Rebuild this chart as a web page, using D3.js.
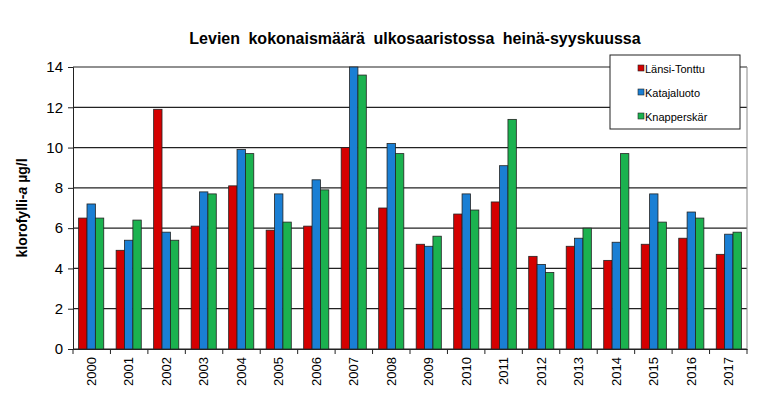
<!DOCTYPE html>
<meta charset="utf-8">
<script src="https://d3js.org/d3.v7.min.js"></script>
<style>body{margin:0;background:#fff}</style>
<div id="chart"></div>
<script>
const years = ["2000","2001","2002","2003","2004","2005","2006","2007","2008","2009","2010","2011","2012","2013","2014","2015","2016","2017"];
const seriesNames = ["Länsi-Tonttu","Katajaluoto","Knapperskär"];
const lansiTonttu = [6.5,4.9,11.9,6.1,8.1,5.9,6.1,10.0,7.0,5.2,6.7,7.3,4.6,5.1,4.4,5.2,5.5,4.7];
const katajaluoto = [7.2,5.4,5.8,7.8,9.9,7.7,8.4,14.0,10.2,5.1,7.7,9.1,4.2,5.5,5.3,7.7,6.8,5.7];
const knapperskar = [6.5,6.4,5.4,7.7,9.7,6.3,7.9,13.6,9.7,5.6,6.9,11.4,3.8,6.0,9.7,6.3,6.5,5.8];
const yTicks = [0,2,4,6,8,10,12,14];
const colors = ["#d40000","#1a7fd4","#1bb24f"];

const margin = {top: 67, right: 10, bottom: 70, left: 73},
    width = 747 - margin.left,
    height = 349 - margin.top;

const svg = d3.select("#chart").append("svg")
    .attr("width", 757).attr("height", 419)
    .style("font-family", "Arial, 'Liberation Sans', sans-serif");

const g = svg.append("g").attr("transform", `translate(${margin.left},${margin.top})`);

const x = d3.scaleBand().domain(years).range([0, width]).paddingInner(0.33).paddingOuter(0.15);
const xs = d3.scaleBand().domain(seriesNames).range([0, x.bandwidth()]);
const y = d3.scaleLinear().domain([0, 14]).range([height, 0]);

// gridlines
g.selectAll(".grid").data(yTicks).join("line")
  .attr("x1", 0).attr("x2", width)
  .attr("y1", d => y(d)).attr("y2", d => y(d))
  .attr("stroke", "#222").attr("stroke-width", 1.2);

const data = [lansiTonttu, katajaluoto, knapperskar];
data.forEach((vals, i) => {
  g.selectAll(".bar" + i).data(vals).join("rect")
    .attr("x", (d, j) => x(years[j]) + xs(seriesNames[i]))
    .attr("y", d => y(d))
    .attr("width", xs.bandwidth())
    .attr("height", d => height - y(d))
    .attr("fill", colors[i])
    .attr("stroke", "#222").attr("stroke-width", 0.8);
});

// right border
g.append("line").attr("x1", width).attr("x2", width).attr("y1", 0).attr("y2", height)
  .attr("stroke", "#888");

// axes
const yAxis = g.append("g").call(d3.axisLeft(y).tickValues(yTicks).tickSize(5).tickPadding(5));
yAxis.selectAll("text").style("font-size", "15px").attr("fill", "#000");
yAxis.selectAll("line, path").attr("stroke", "#222");

const xAxis = g.append("g").attr("transform", `translate(0,${height})`)
  .call(d3.axisBottom(x).tickSize(0).tickPadding(8));
xAxis.selectAll("text")
  .style("font-size", "13px").attr("fill", "#000")
  .attr("transform", "rotate(-90)").attr("dy", "0.35em").attr("dx", 0)
  .attr("x", -8).attr("y", 0).style("text-anchor", "end");
xAxis.selectAll("path").attr("stroke", "#222");
// x tick marks between groups
const step = x.step();
g.selectAll(".xt").data(d3.range(years.length + 1)).join("line")
  .attr("x1", d => d * width / years.length).attr("x2", d => d * width / years.length)
  .attr("y1", height).attr("y2", height + 5).attr("stroke", "#222");

// title
svg.append("text").attr("x", 415).attr("y", 44).attr("text-anchor", "middle")
  .style("font-size", "16px").style("font-weight", "bold").style("word-spacing", "4px")
  .text("Levien kokonaismäärä ulkosaaristossa heinä-syyskuussa");

// y label
const yl = svg.append("text").attr("transform", "translate(27,208) rotate(-90)")
  .attr("text-anchor", "middle").style("font-size", "14px").style("font-weight", "bold");
yl.append("tspan").text("klorofylli-");
yl.append("tspan").style("font-style", "italic").text("a");
yl.append("tspan").text("  µg/l");

// legend
const lg = svg.append("g").attr("transform", "translate(610,55)");
lg.append("rect").attr("width", 130).attr("height", 74).attr("fill", "#fff").attr("stroke", "#222");
seriesNames.forEach((n, i) => {
  const row = lg.append("g").attr("transform", `translate(28,${14 + i * 24})`);
  row.append("rect").attr("x", 0).attr("y", -4).attr("width", 6).attr("height", 6)
    .attr("fill", colors[i]).attr("stroke", "#222").attr("stroke-width", 0.6);
  row.append("text").attr("x", 7).attr("y", 0).attr("dy", "0.35em")
    .style("font-size", "11px").text(n);
});
</script>
